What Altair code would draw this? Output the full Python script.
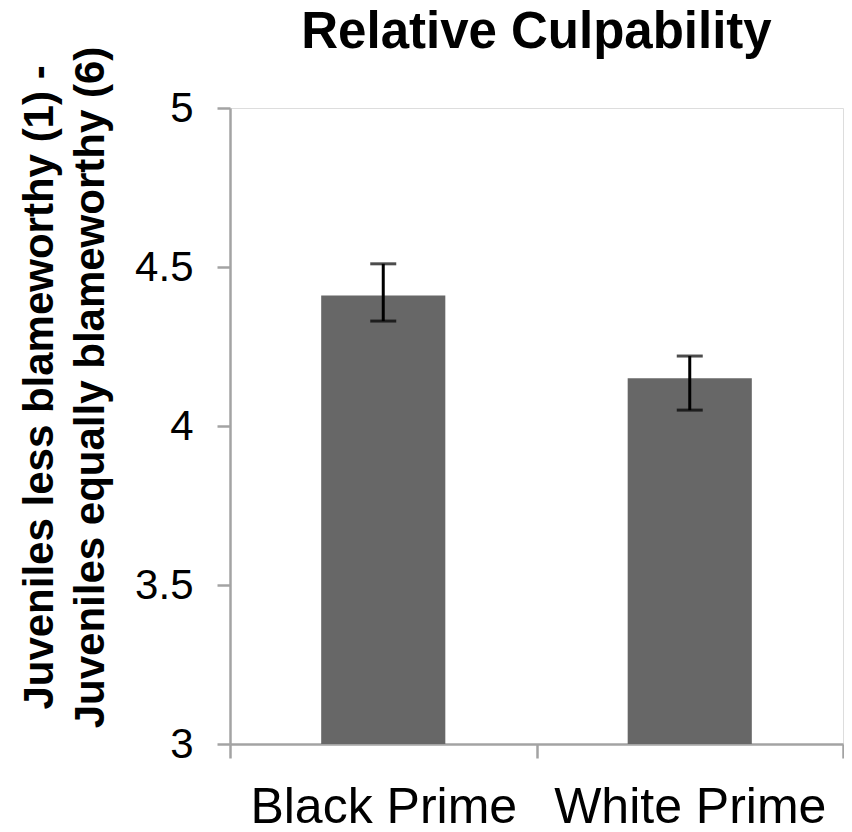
import altair as alt
import pandas as pd

categories = ["Black Prime", "White Prime"]
means = [4.41, 4.15]
err_low = [4.33, 4.05]
err_high = [4.51, 4.22]
y_ticks = [3, 3.5, 4, 4.5, 5]
y_title = ["Juveniles less blameworthy (1) -", "Juveniles equally blameworthy (6)"]
chart_title = "Relative Culpability"

df = pd.DataFrame({"cond": categories, "mean": means, "lo": err_low, "hi": err_high})

FONT = "Liberation Sans"
AX = "#a3a3a3"

xenc = alt.X(
    "cond:N", sort=categories, title=None,
    scale=alt.Scale(paddingInner=0, paddingOuter=0),
    axis=alt.Axis(labelAngle=0, labelFontSize=50, labelFont=FONT, labelColor="#000000",
                  labelBaseline="alphabetic", labelPadding=64, tickSize=14, tickBand="extent",
                  domainColor=AX, tickColor=AX, domainWidth=2.5, tickWidth=2.5,
                  labelLimit=500, grid=False),
)

yscale = alt.Scale(domain=[3, 5], zero=False, nice=False)
yaxis = alt.Axis(values=y_ticks, format="~g", labelFontSize=42, labelFont=FONT,
                 labelColor="#000000", labelPadding=24, tickSize=13,
                 domainColor=AX, tickColor=AX, domainWidth=2.5, tickWidth=2.5, grid=False,
                 title=y_title, titleFontSize=42, titleFont=FONT, titleFontWeight="bold",
                 titleColor="#000000", titleAngle=270, titleAlign="center",
                 titleBaseline="top", titleX=-211, titleY=279, titleLineHeight=51,
                 titleLimit=900)

base = alt.Chart(df)

bars = base.mark_bar(color="#676767", width={"band": 0.405}).encode(
    x=xenc,
    y=alt.Y("mean:Q", scale=yscale, axis=yaxis),
    y2=alt.datum(3),
)
rule = base.mark_rule(color="#000000", strokeWidth=3).encode(
    x=xenc,
    y=alt.Y("lo:Q", scale=yscale, axis=yaxis),
    y2="hi:Q",
)
cap_hi = base.mark_tick(color="#000000", size=26, thickness=3).encode(
    x=xenc, y=alt.Y("hi:Q", scale=yscale, axis=yaxis)
)
cap_lo = base.mark_tick(color="#000000", size=26, thickness=3).encode(
    x=xenc, y=alt.Y("lo:Q", scale=yscale, axis=yaxis)
)

chart = alt.layer(bars, rule, cap_hi, cap_lo).properties(
    width=613,
    height=636,
    autosize=alt.AutoSizeParams(type="none"),
    padding={"left": 222, "top": 100, "right": 1, "bottom": 80},
    title=alt.TitleParams(chart_title, fontSize=51, font=FONT, fontWeight="bold",
                          color="#000000", anchor="middle", frame="group",
                          baseline="alphabetic", offset=-53),
).configure_view(strokeWidth=0).configure(background="white")

chart.save("out.html", embed_options={"renderer": "svg", "actions": False})
